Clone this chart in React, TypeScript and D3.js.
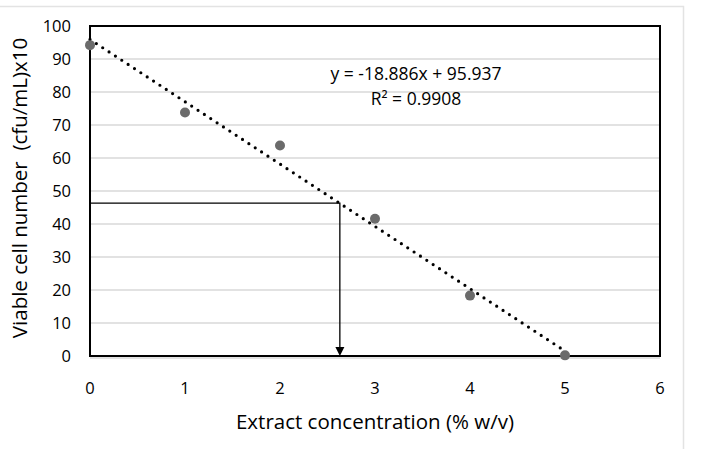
import { useEffect, useRef } from 'react';
import * as d3 from 'd3';

const concentrations = [0, 1, 2, 3, 4, 5];
const viableCells = [94.2, 73.8, 63.8, 41.6, 18.3, 0.2];
const slope = -18.886;
const intercept = 95.937;
const yTicks = [0, 10, 20, 30, 40, 50, 60, 70, 80, 90, 100];
const xTicks = [0, 1, 2, 3, 4, 5, 6];
const ic50 = { x: 2.63, y: 46.3 };

export default function App() {
  const svgRef = useRef<SVGSVGElement>(null);

  useEffect(() => {
    if (!svgRef.current) return;
    const svg = d3.select(svgRef.current);
    svg.selectAll('*').remove();

    const font = '"Open Sans", Lato, sans-serif';
    const left = 90;
    const right = 660;
    const top = 26;
    const bottom = 356;

    const x = d3.scaleLinear().domain([0, 6]).range([left, right]);
    const y = d3.scaleLinear().domain([0, 100]).range([bottom, top]);

    // outer frame
    svg
      .append('path')
      .attr('d', 'M0,6.5H683.5V449')
      .attr('fill', 'none')
      .attr('stroke', '#e3e3e3')
      .attr('stroke-width', 1.5);

    // grid
    svg
      .append('g')
      .selectAll('line')
      .data(yTicks)
      .join('line')
      .attr('x1', left)
      .attr('x2', right)
      .attr('y1', (d) => y(d) + (d === 0 ? 2 : 0))
      .attr('y2', (d) => y(d) + (d === 0 ? 2 : 0))
      .attr('stroke', '#d9d9d9')
      .attr('stroke-width', 1.6);

    // plot border
    svg
      .append('rect')
      .attr('x', left)
      .attr('y', top)
      .attr('width', right - left)
      .attr('height', bottom - top)
      .attr('fill', 'none')
      .attr('stroke', '#000')
      .attr('stroke-width', 2);

    // y tick labels
    svg
      .append('g')
      .selectAll('text')
      .data(yTicks)
      .join('text')
      .attr('x', 71)
      .attr('y', (d) => y(d))
      .attr('dy', '0.35em')
      .attr('text-anchor', 'end')
      .attr('font-family', font)
      .attr('font-size', 16.5)
      .attr('fill', '#000')
      .text((d) => d);

    // x tick labels
    svg
      .append('g')
      .selectAll('text')
      .data(xTicks)
      .join('text')
      .attr('x', (d) => x(d))
      .attr('y', 394)
      .attr('text-anchor', 'middle')
      .attr('font-family', font)
      .attr('font-size', 16.5)
      .attr('fill', '#000')
      .text((d) => d);

    // axis titles
    svg
      .append('text')
      .attr('transform', 'translate(27,188) rotate(-90)')
      .attr('text-anchor', 'middle')
      .attr('font-family', font)
      .attr('font-size', 20.5)
      .attr('fill', '#000')
      .attr('xml:space', 'preserve')
      .text('Viable cell number  (cfu/mL)x10');

    svg
      .append('text')
      .attr('x', 375)
      .attr('y', 429)
      .attr('text-anchor', 'middle')
      .attr('font-family', font)
      .attr('font-size', 20.5)
      .attr('fill', '#000')
      .text('Extract concentration (% w/v)');

    // IC50 guide
    svg
      .append('path')
      .attr('d', `M${x(0)},${y(ic50.y)}H${x(ic50.x)}V${y(0) - 8}`)
      .attr('fill', 'none')
      .attr('stroke', '#000')
      .attr('stroke-width', 1.3);
    svg
      .append('path')
      .attr(
        'd',
        `M${x(ic50.x) - 4.5},${y(0) - 9}L${x(ic50.x) + 4.5},${y(0) - 9}L${x(ic50.x)},${y(0)}Z`
      )
      .attr('fill', '#000');

    // trendline
    const trend = d3.extent(concentrations) as [number, number];
    const line = d3
      .line<number>()
      .x((d) => x(d))
      .y((d) => y(slope * d + intercept));
    svg
      .append('path')
      .attr('d', line(trend))
      .attr('fill', 'none')
      .attr('stroke', '#000')
      .attr('stroke-width', 3.2)
      .attr('stroke-linecap', 'round')
      .attr('stroke-dasharray', '0 7.6');

    // points
    svg
      .append('g')
      .selectAll('circle')
      .data(concentrations)
      .join('circle')
      .attr('cx', (d) => x(d))
      .attr('cy', (_, i) => y(viableCells[i]))
      .attr('r', 5)
      .attr('fill', '#6b6b6b');

    // equation
    svg
      .append('text')
      .attr('x', 416)
      .attr('y', 80)
      .attr('text-anchor', 'middle')
      .attr('font-family', font)
      .attr('font-size', 17.5)
      .attr('fill', '#000')
      .text(`y = ${slope}x + ${intercept}`);
    svg
      .append('text')
      .attr('x', 416)
      .attr('y', 105)
      .attr('text-anchor', 'middle')
      .attr('font-family', font)
      .attr('font-size', 17.5)
      .attr('fill', '#000')
      .text('R² = 0.9908');
  }, []);

  return (
    <svg
      ref={svgRef}
      width={711}
      height={449}
      style={{ position: 'fixed', left: 0, top: 0, background: '#fff' }}
    />
  );
}
